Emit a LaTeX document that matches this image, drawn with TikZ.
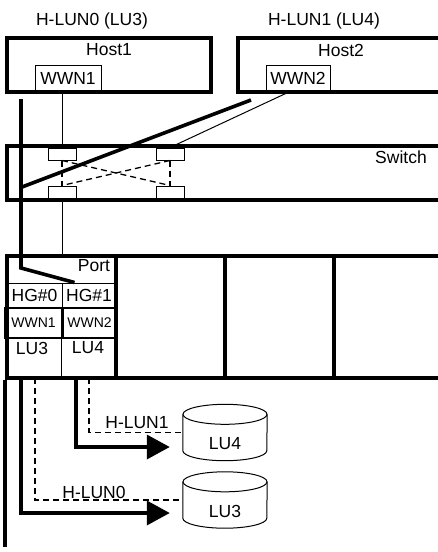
\documentclass[tikz,border=0pt]{standalone}
\usepackage{fontspec}
\setmainfont{Liberation Sans}
\usetikzlibrary{arrows.meta,positioning,shapes.geometric}

\begin{document}
\begin{tikzpicture}[
					x=1pt,y=-1pt,
					>={Triangle[length=23pt,width=24pt]},
					every node/.style={font=\fontsize{17.5}{20}\selectfont,inner sep=0pt},
					heavy/.style={line width=3.6pt},
					slim/.style={line width=1pt},
					hop/.style={line width=1.3pt,dash pattern=on 6pt off 4pt},
					box/.style={draw,heavy},
					cell/.style={draw,slim,minimum width=55pt,minimum height=24pt},
					wwncell/.style={draw,line width=1.8pt,minimum height=30pt,font=\fontsize{14}{16}\selectfont},
					sport/.style={draw,slim,fill=white,minimum width=28pt,minimum height=12pt},
					disk/.style={minimum width=84pt,minimum height=56pt}
					]
					\useasboundingbox (0,0) rectangle (438,552);
					\node[box,minimum width=204pt,minimum height=54pt](host1) at (109,65){};
					\node(h1name) at (109,50){Host1};
					\node[draw,slim,minimum width=66pt,minimum height=26pt](wwn1) at (68,78){WWN1};
					\node(lun0) at (92,21){H-LUN0 (LU3)};
					\node[box,minimum width=207pt,minimum height=54pt](host2) at (341.5,65){};
					\node(h2name) at (341,50){Host2};
					\node[draw,slim,minimum width=64pt,minimum height=26pt](wwn2) at (298,78){WWN2};
					\node(lun1) at (324,21){H-LUN1 (LU4)};
					
					\node[box,minimum width=438pt,minimum height=54pt](switch) at (226,173){};
					\node(swname) at (401,157){Switch};
					\node[sport](p1) at (62,154){};
					\node[sport](p2) at (170,154){};
					\node[sport](p3) at (62,192){};
					\node[sport](p4) at (170,192){};
					
					\node[box,minimum width=438pt,minimum height=122pt](array) at (226,317){};
					\draw[heavy] (116,256) -- (116,378);
					\draw[heavy] (225,256) -- (225,378);
					\draw[heavy] (334,256) -- (334,378);
					\node(portname) at (94,266){Port};
					\node[cell](hg0) at (34.5,295){HG\#0};
					\node[cell,minimum width=54pt](hg1) at (89,295){HG\#1};
					\node[wwncell,minimum width=57pt](pw1) at (33.5,323){WWN1};
					\node[wwncell,minimum width=53pt](pw2) at (89.5,323){WWN2};
					\node(lu3name) at (32,348){LU3};
					\node(lu4name) at (88,348){LU4};
					\draw[slim] (hg1.south west |- pw1.south) -- (hg1.south west |- array.south);
					
					\node[disk,label={[yshift=-11pt]center:LU4}](lu4) at (225,432.5){};
					\node[disk,label={[yshift=-11pt]center:LU3}](lu3) at (225,500){};
					\foreach \d in {lu4,lu3}{
						\draw[slim] ([yshift=-10pt]\d.north west) -- ([yshift=10pt]\d.south west) arc[start angle=180,end angle=0,x radius=42,y radius=10] -- ([yshift=-10pt]\d.north east);
						\draw[slim] ([yshift=-10pt]\d.north) ellipse [x radius=42,y radius=10];
					}
					\node(hl1) at (137,423){H-LUN1};
					\node(hl0) at (94,492){H-LUN0};
					
					\coordinate(h1tap) at (21,99);
					\coordinate(h2tap) at (251,100);
					\draw[slim] (p1 |- wwn1.south) -- (p1.north);
					\draw[slim] ([xshift=-8pt]wwn2.south) -- (p2.north);
					\draw[hop] (p1.south) -- (p3.north);
					\draw[hop] (p2.south) -- (p4.north);
					\draw[hop] (p1.south) -- (p4.north);
					\draw[hop] (p2.south) -- (p3.north);
					\draw[slim] (p3.south) -- (p3 |- array.north);
					\draw[heavy] (h2tap) -- (22,187);
					\draw[heavy] (h1tap) -- (21,268) -- ([xshift=13pt]hg1.north west);
					
					\draw[heavy] (array.south west) -- ++(0,167);
					\draw[heavy,->] (21,378) -- (21,513) -- ([shift={(-13,13)}]lu3.west);
					\draw[heavy,->] (76,378) -- (76,447) -- ([shift={(-13,14.5)}]lu4.west);
					\draw[hop] (35,378) |- (lu3.west);
					\draw[hop] (89,378) |- (lu4.west);
					
				\end{tikzpicture}
\end{document}
